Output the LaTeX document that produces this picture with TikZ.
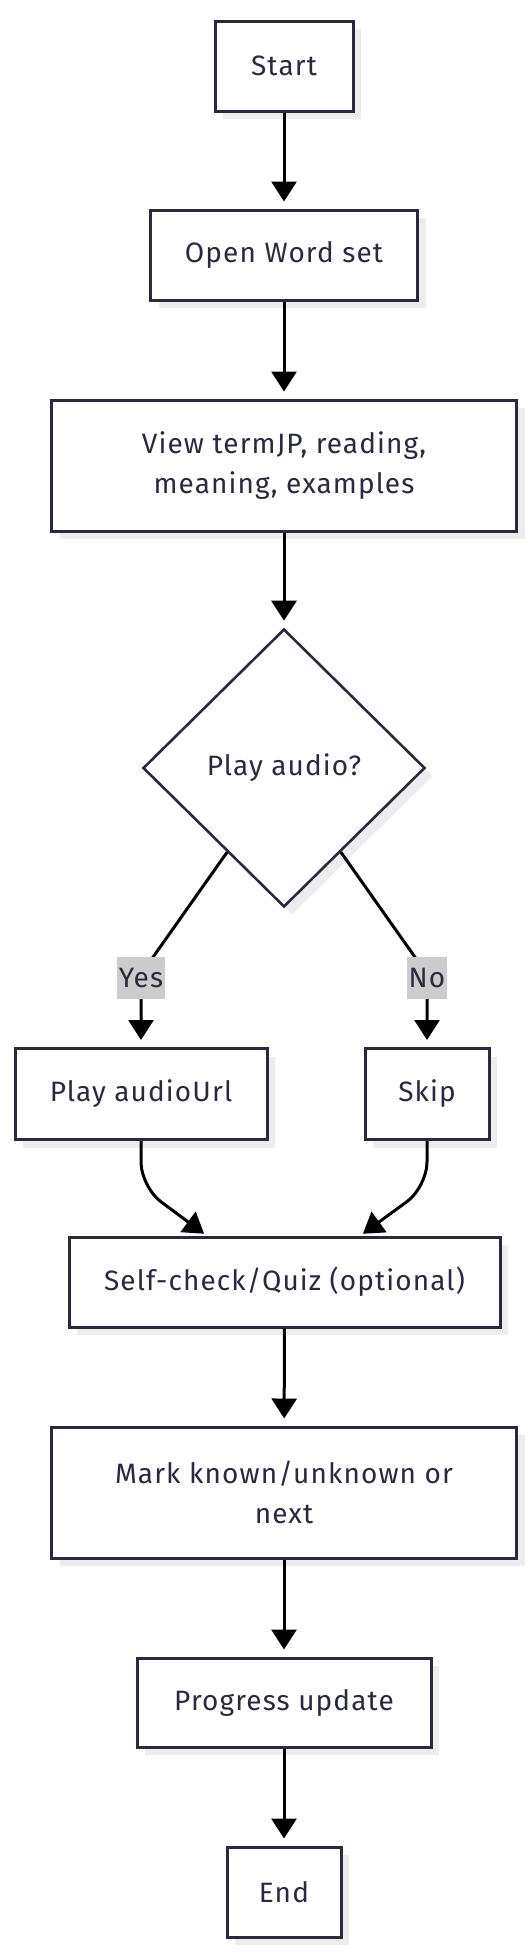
\documentclass[tikz,border=0pt]{standalone}
\usepackage{fontspec}
\setmainfont[LetterSpace=4]{Fira Sans}
\usepackage{tikz}
\usetikzlibrary{calc}
\usetikzlibrary{arrows.meta, positioning, shapes.geometric, shadows}
\definecolor{ink}{RGB}{42,42,62}
\definecolor{lblgray}{RGB}{204,204,204}
\definecolor{shade}{RGB}{237,237,237}

\begin{document}
\begin{tikzpicture}[x=1pt, y=-1pt,
    every node/.style={font=\fontsize{28}{40}\selectfont, text=ink},
    box/.style={rectangle, draw=ink, line width=3pt, fill=white, align=center, inner sep=0pt,
        drop shadow={shadow xshift=8pt, shadow yshift=-8pt, fill=shade, opacity=1}},
    decision/.style={diamond, draw=ink, line width=2.6pt, fill=white, inner sep=0pt,
        minimum width=282pt, minimum height=278pt,
        drop shadow={shadow xshift=8pt, shadow yshift=-8pt, fill=shade, opacity=1}},
    lbl/.style={fill=lblgray, inner xsep=2pt, inner ysep=0pt, minimum height=42pt},
    arr/.style={-{Triangle[length=20pt, width=25pt]}, line width=3pt, black, shorten >=7pt}]
    \useasboundingbox (0,0) rectangle (532,1957);
    \node[box, minimum width=138pt, minimum height=90pt] (start) at (284,66) {Start};
    \node[box, minimum width=267pt, minimum height=90pt] (open) at (284,255) {Open Word set};
    \node[box, minimum width=465pt, minimum height=131pt] (view) at (284,465.5) {View termJP, reading,\\meaning, examples};
    \node[decision] (dec) at (284,768) {Play audio?};
    \node[box, minimum width=252pt, minimum height=91pt] (play) at (141,1094) {Play audioUrl};
    \node[box, minimum width=124pt, minimum height=91pt] (skip) at (427,1094) {Skip};
    \node[box, minimum width=431pt, minimum height=90pt] (quiz) at (284.5,1282) {Self-check/Quiz (optional)};
    \node[box, minimum width=465pt, minimum height=131pt] (mark) at (284,1492.5) {Mark known/unknown or\\next};
    \node[box, minimum width=294pt, minimum height=89pt] (prog) at (284,1702.5) {Progress update};
    \node[box, minimum width=114pt, minimum height=90pt] (end) at (284,1892) {End};

    \coordinate (yespt) at (141,978);
    \coordinate (nopt) at (427,978);

    \draw[arr] (start) -- (open);
    \draw[arr] (open) -- (view);
    \draw[arr] (view) -- (dec);
    \draw[arr] ($(dec.west)!0.6!(dec.south)$) -- ($(yespt)+(10,-18)$) .. controls ($(yespt)+(1,-6)$) .. (yespt) -- (play);
    \draw[arr] ($(dec.east)!0.6!(dec.south)$) -- ($(nopt)+(-10,-18)$) .. controls ($(nopt)+(-1,-6)$) .. (nopt) -- (skip);
    \draw[arr, rounded corners=25pt, shorten >=3pt] (play.south) -- ++(0,46) -- ([xshift=-78pt]quiz.north);
    \draw[arr, rounded corners=25pt, shorten >=3pt] (skip.south) -- ++(0,46) -- ([xshift=76pt]quiz.north);
    \draw[arr] (quiz) -- (mark);
    \draw[arr] (mark) -- (prog);
    \draw[arr] (prog) -- (end);

    \node[lbl] (yes) at (yespt) {Yes};
    \node[lbl] (no) at (nopt) {No};
\end{tikzpicture}
\end{document}
